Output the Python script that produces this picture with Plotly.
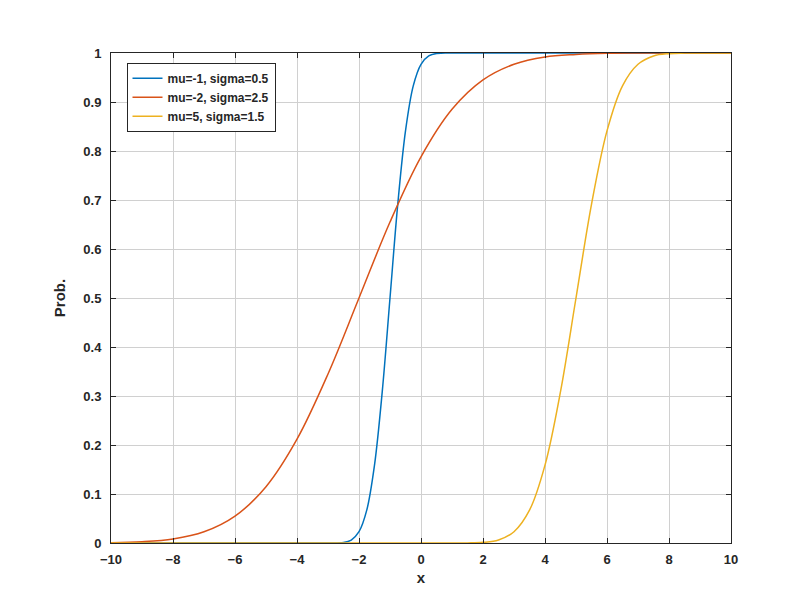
import plotly.graph_objects as go

# values
x1 = [-10, -4, -3, -2.5, -2.25, -2, -1.75, -1.5, -1.25, -1, -0.75, -0.5, -0.25, 0, 0.25, 0.5, 1, 4, 10]
y1 = [0, 0, 0, 0.001, 0.006, 0.023, 0.067, 0.159, 0.309, 0.5, 0.691, 0.841, 0.933, 0.977, 0.994, 0.999, 1, 1, 1]

x2 = [-10, -9, -8, -7, -6, -5, -4, -3, -2, -1, 0, 1, 2, 3, 4, 5, 6, 7, 8, 10]
y2 = [0.0007, 0.0026, 0.0082, 0.0228, 0.0548, 0.115, 0.212, 0.345, 0.5, 0.655, 0.788,
      0.885, 0.945, 0.977, 0.992, 0.997, 0.9993, 0.9999, 1, 1]

x3 = [-10, -2, 1, 1.5, 2, 2.5, 3, 3.5, 4, 4.5, 5, 5.5, 6, 6.5, 7, 7.5, 8, 8.5, 9, 10]
y3 = [0, 0, 0, 0.0002, 0.0013, 0.006, 0.023, 0.067, 0.159, 0.309, 0.5, 0.691, 0.841,
      0.933, 0.977, 0.994, 0.9987, 0.9998, 1, 1]

names = ['mu=-1, sigma=0.5', 'mu=-2, sigma=2.5', 'mu=5, sigma=1.5']
colors = ['#0072BD', '#D95319', '#EDB120']

fig = go.Figure()
for xs, ys, n, c in zip([x1, x2, x3], [y1, y2, y3], names, colors):
    fig.add_trace(go.Scatter(x=xs, y=ys, mode='lines', name=n,
                             line=dict(color=c, width=1.5, shape='spline', smoothing=1.0)))

axis_common = dict(showgrid=True, gridcolor='#d0d0d0', gridwidth=1, zeroline=False,
                   showline=True, linecolor='#262626', linewidth=1, mirror='ticks',
                   ticks='inside', ticklen=5, tickcolor='#262626', automargin=False,
                   tickfont=dict(size=13, color='#262626', weight='bold'))

fig.update_layout(
    width=800, height=600,
    paper_bgcolor='white', plot_bgcolor='white',
    font=dict(family='Liberation Sans, Arial', color='#262626'),
    margin=dict(l=103, r=77, t=45, b=65),
    xaxis=dict(range=[-10, 10], dtick=2, ticklabelstandoff=4,
               title=dict(text='<b>x</b>', font=dict(size=15), standoff=6), **axis_common),
    yaxis=dict(range=[0, 1], dtick=0.1, ticklabelstandoff=6,
               title=dict(text='<b>Prob.</b>', font=dict(size=15), standoff=14), **axis_common),
    legend=dict(x=0.025, y=0.98, xanchor='left', yanchor='top',
                bgcolor='white', bordercolor='#262626', borderwidth=1,
                font=dict(size=12, weight='bold'), tracegroupgap=0),
    showlegend=True,
)

fig.write_html("out.html")
